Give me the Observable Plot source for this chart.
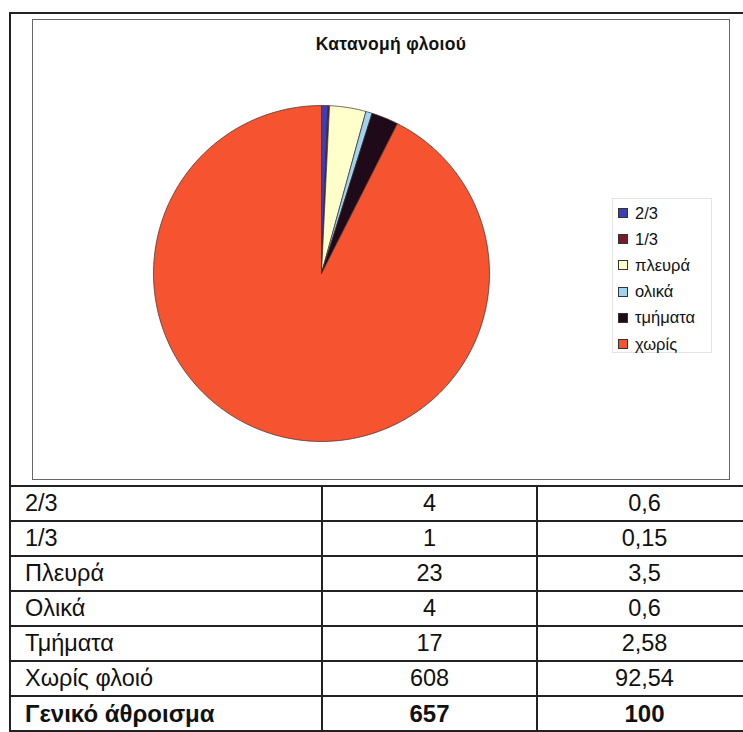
<!DOCTYPE html>
<html><head><meta charset="utf-8">
<script src="https://cdn.jsdelivr.net/npm/d3@7"></script>
<script src="https://cdn.jsdelivr.net/npm/@observablehq/plot@0.6"></script>
<style>
html,body{margin:0;padding:0;background:#fff;}
body{width:743px;height:732px;overflow:hidden;position:relative;font-family:"Liberation Sans",Arial,sans-serif;color:#111;}
#outer{position:absolute;left:9px;top:12px;width:780px;height:780px;border:2px solid #222;box-sizing:border-box;}
#chartbox{position:absolute;left:32px;top:19px;width:698px;height:461px;border:1.5px solid #666;box-sizing:border-box;}
#title{position:absolute;left:32px;width:718px;top:34px;text-align:center;font-weight:bold;font-size:17.5px;letter-spacing:0.3px;}
#pie{position:absolute;left:151px;top:103px;}
#legend{position:absolute;left:612px;top:198px;width:100px;height:155px;border:1px solid #e4e4e4;box-sizing:border-box;padding-top:1px;}
.li{height:26.2px;display:flex;align-items:center;font-size:16.5px;}
.sw{width:8px;height:8px;border:1px solid #333;margin-left:5px;margin-right:7px;}
table{position:absolute;left:9px;top:485px;border-collapse:collapse;font-size:23.5px;table-layout:fixed;width:750px;}
td{border:2px solid #222;height:33px;padding:0;line-height:33px;overflow:hidden;white-space:nowrap;}
td.c1{text-align:left;padding-left:14px;}
td.c2{text-align:center;}
td.c3{text-align:center;padding-right:8px;}
tr.tot td{font-weight:bold;font-size:24px;}
</style></head>
<body>
<div id="outer"></div>
<div id="chartbox"></div>
<div id="title"></div>
<div id="pie"></div>
<div id="legend"></div>
<table id="tbl"><colgroup><col style="width:312px"><col style="width:215px"><col style="width:223px"></colgroup></table>
<script>
const title = "Κατανομή φλοιού";
const categories = ["2/3","1/3","πλευρά","ολικά","τμήματα","χωρίς"];
const counts = [4,1,23,4,17,608];
const colors = ["#3b3fb3","#7a1a2a","#ffffcc","#9fd4f0","#1e0a18","#f65330"];
const rowLabels = ["2/3","1/3","Πλευρά","Ολικά","Τμήματα","Χωρίς φλοιό"];
const percents = ["0,6","0,15","3,5","0,6","2,58","92,54"];
const totalLabel = "Γενικό άθροισμα";
const totalCount = 657;
const totalPercent = "100";

document.getElementById("title").textContent = title;

const arcs = d3.pie().sort(null).value(d => d)(counts);
const pts = [];
arcs.forEach((a, i) => {
  const n = Math.max(2, Math.ceil((a.endAngle - a.startAngle) / 0.01));
  pts.push({cat: categories[i], x: 0, y: 0});
  for (let k = 0; k <= n; k++) {
    const t = a.startAngle + (a.endAngle - a.startAngle) * k / n;
    pts.push({cat: categories[i], x: Math.sin(t), y: Math.cos(t)});
  }
  pts.push({cat: categories[i], x: 0, y: 0});
});

const chart = Plot.plot({
  width: 340, height: 340, margin: 2,
  x: {domain: [-1, 1], axis: null},
  y: {domain: [-1, 1], axis: null},
  color: {domain: categories, range: colors},
  marks: [
    Plot.line(pts, {x: "x", y: "y", z: "cat", fill: "cat", stroke: "#3a2a2a", strokeWidth: 0.7, strokeLinejoin: "round"})
  ]
});
document.getElementById("pie").appendChild(chart);

const leg = document.getElementById("legend");
categories.forEach((c, i) => {
  const d = document.createElement("div"); d.className = "li";
  const s = document.createElement("span"); s.className = "sw"; s.style.background = colors[i];
  const t = document.createElement("span"); t.textContent = c;
  d.appendChild(s); d.appendChild(t); leg.appendChild(d);
});

const tbl = document.getElementById("tbl");
const rows = rowLabels.map((l, i) => [l, counts[i], percents[i], false]);
rows.push([totalLabel, totalCount, totalPercent, true]);
rows.forEach(r => {
  const tr = document.createElement("tr"); if (r[3]) tr.className = "tot";
  ["c1","c2","c3"].forEach((c, j) => {
    const td = document.createElement("td"); td.className = c; td.textContent = r[j]; tr.appendChild(td);
  });
  tbl.appendChild(tr);
});
</script>
</body></html>
